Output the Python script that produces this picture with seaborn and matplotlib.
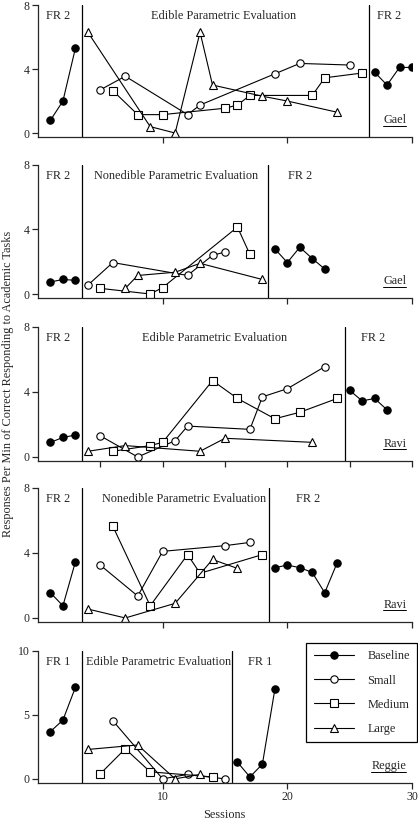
import numpy as np
import pandas as pd
import seaborn as sns
import matplotlib.pyplot as plt
from matplotlib.lines import Line2D

# ---------------- data (sessions, responses per min) ----------------
# panel 1 - Gael, edible
p1_base_a_x = [1, 2, 3]
p1_base_a_y = [0.8, 2.0, 5.3]
p1_base_b_x = [27, 28, 29, 30]
p1_base_b_y = [3.8, 3.0, 4.1, 4.1]
p1_small_x = [5, 7, 12, 13, 19, 21, 25]
p1_small_y = [2.7, 3.55, 1.15, 1.75, 3.7, 4.35, 4.25]
p1_med_x = [6, 8, 10, 15, 16, 17, 22, 23, 26]
p1_med_y = [2.65, 1.15, 1.15, 1.55, 1.75, 2.35, 2.35, 3.45, 3.75]
p1_large_x = [4, 9, 11, 13, 14, 18, 20, 24]
p1_large_y = [6.3, 0.4, 0.0, 6.3, 3.0, 2.3, 2.0, 1.3]

# panel 2 - Gael, nonedible
p2_base_a_x = [1, 2, 3]
p2_base_a_y = [0.75, 0.9, 0.85]
p2_base_b_x = [19, 20, 21, 22, 23]
p2_base_b_y = [2.8, 1.95, 2.9, 2.2, 1.55]
p2_small_x = [4, 6, 12, 14, 15]
p2_small_y = [0.55, 1.95, 1.15, 2.4, 2.6]
p2_med_x = [5, 9, 10, 16, 17]
p2_med_y = [0.35, 0.0, 0.4, 4.15, 2.45]
p2_large_x = [7, 8, 11, 13, 18]
p2_large_y = [0.35, 1.15, 1.35, 1.9, 0.9]

# panel 3 - Ravi, edible
p3_base_a_x = [1, 2, 3]
p3_base_a_y = [0.9, 1.2, 1.35]
p3_base_b_x = [25, 26, 27, 28]
p3_base_b_y = [4.1, 3.45, 3.6, 2.9]
p3_small_x = [5, 8, 11, 12, 17, 18, 20, 23]
p3_small_y = [1.3, 0.0, 1.0, 1.9, 1.7, 3.7, 4.2, 5.55]
p3_med_x = [6, 9, 10, 14, 16, 19, 21, 24]
p3_med_y = [0.35, 0.7, 0.9, 4.7, 3.6, 2.35, 2.75, 3.6]
p3_large_x = [4, 7, 13, 15, 22]
p3_large_y = [0.35, 0.7, 0.35, 1.15, 0.9]

# panel 4 - Ravi, nonedible
p4_base_a_x = [1, 2, 3]
p4_base_a_y = [1.55, 0.75, 3.45]
p4_base_b_x = [19, 20, 21, 22, 23, 24]
p4_base_b_y = [3.1, 3.25, 3.1, 2.8, 1.55, 3.4]
p4_small_x = [5, 8, 10, 15, 17]
p4_small_y = [3.25, 1.35, 4.1, 4.45, 4.65]
p4_med_x = [6, 9, 12, 13, 18]
p4_med_y = [5.65, 0.75, 3.9, 2.75, 3.9]
p4_large_x = [4, 7, 11, 14, 16]
p4_large_y = [0.55, 0.0, 0.9, 3.6, 3.05]

# panel 5 - Reggie, edible
p5_base_a_x = [1, 2, 3]
p5_base_a_y = [3.7, 4.6, 7.15]
p5_base_b_x = [16, 17, 18, 19]
p5_base_b_y = [1.3, 0.15, 1.15, 7.0]
p5_small_x = [6, 10, 12, 15]
p5_small_y = [4.55, 0.0, 0.35, 0.0]
p5_med_x = [5, 7, 9, 14]
p5_med_y = [0.4, 2.35, 0.55, 0.15]
p5_large_x = [4, 8, 11, 13]
p5_large_y = [2.3, 2.65, 0.0, 0.35]

phase_lines = [[3.5, 26.55], [3.5, 18.45], [3.5, 24.6], [3.5, 18.5], [3.5, 15.6]]
phase_names = [['FR 2', 'Edible Parametric Evaluation', 'FR 2'],
               ['FR 2', 'Nonedible Parametric Evaluation', 'FR 2'],
               ['FR 2', 'Edible Parametric Evaluation', 'FR 2'],
               ['FR 2', 'Nonedible Parametric Evaluation', 'FR 2'],
               ['FR 1', 'Edible Parametric Evaluation', 'FR 1']]
phase_text_x = [[1.6, 14.9, 28.2], [1.6, 11.1, 21.0], [1.6, 14.2, 26.9],
                [1.6, 11.7, 21.7], [1.6, 9.7, 17.8]]
subjects = ['Gael', 'Gael', 'Ravi', 'Ravi', 'Reggie']

panels = [
    (p1_base_a_x, p1_base_a_y, p1_base_b_x, p1_base_b_y, p1_small_x, p1_small_y,
     p1_med_x, p1_med_y, p1_large_x, p1_large_y),
    (p2_base_a_x, p2_base_a_y, p2_base_b_x, p2_base_b_y, p2_small_x, p2_small_y,
     p2_med_x, p2_med_y, p2_large_x, p2_large_y),
    (p3_base_a_x, p3_base_a_y, p3_base_b_x, p3_base_b_y, p3_small_x, p3_small_y,
     p3_med_x, p3_med_y, p3_large_x, p3_large_y),
    (p4_base_a_x, p4_base_a_y, p4_base_b_x, p4_base_b_y, p4_small_x, p4_small_y,
     p4_med_x, p4_med_y, p4_large_x, p4_large_y),
    (p5_base_a_x, p5_base_a_y, p5_base_b_x, p5_base_b_y, p5_small_x, p5_small_y,
     p5_med_x, p5_med_y, p5_large_x, p5_large_y),
]

# ---------------- style ----------------
sns.set_style('ticks')
plt.rcParams['font.family'] = ['Liberation Serif', 'DejaVu Serif']
plt.rcParams['axes.linewidth'] = 0.9
plt.rcParams['xtick.major.width'] = 0.9
plt.rcParams['ytick.major.width'] = 0.9

fig = plt.figure(figsize=(4.18, 8.24), dpi=100)

# axes boxes in figure fraction (left, bottom, width, height)
boxes = [(0.0909, 0.8337, 0.8947, 0.1602),
         (0.0909, 0.6383, 0.8947, 0.1615),
         (0.0909, 0.4405, 0.8947, 0.1627),
         (0.0909, 0.2451, 0.8947, 0.1627),
         (0.0909, 0.0498, 0.8947, 0.1602)]

mk = dict(color='black', linewidth=0.8, markersize=5.3, markeredgecolor='black',
          markeredgewidth=0.8)

for i, box in enumerate(boxes):
    ax = fig.add_axes(box)
    bax, bay, bbx, bby, sx, sy, mx, my, lx, ly = panels[i]

    sns.lineplot(x=bax, y=bay, marker='o', markerfacecolor='black', ax=ax, **mk)
    sns.lineplot(x=bbx, y=bby, marker='o', markerfacecolor='black', ax=ax, **mk)
    sns.lineplot(x=sx, y=sy, marker='o', markerfacecolor='white', ax=ax, **mk)
    sns.lineplot(x=mx, y=my, marker='s', markerfacecolor='white', ax=ax, **mk)
    sns.lineplot(x=lx, y=ly, marker='^', markerfacecolor='white', ax=ax, **mk)

    for xv in phase_lines[i]:
        ax.axvline(xv, color='black', linewidth=0.9)

    for name, tx in zip(phase_names[i], phase_text_x[i]):
        ax.text(tx, 0.92, name, transform=ax.get_xaxis_transform(),
                ha='center', va='center', fontsize=8.8)

    ax.set_xlim(0, 30)
    if i == 4:
        ax.set_ylim(-0.32, 10)
        ax.set_yticks([0, 5, 10])
        ax.set_xticks([10, 20, 30])
    else:
        ax.set_ylim(-0.25, 8)
        ax.set_yticks([0, 4, 8])
        if i == 2:
            ax.set_xticks([5, 10, 15, 20, 25, 30])
        else:
            ax.set_xticks([10, 20, 30])
        ax.set_xticklabels([])
    ax.tick_params(axis='both', direction='out', length=4, labelsize=8.5, pad=2)
    sns.despine(ax=ax)
    ax.set_xlabel('')
    ax.set_ylabel('')

    ax.text(0.985, 0.08, subjects[i], transform=ax.transAxes, ha='right',
            va='bottom', fontsize=8.8)

    if i == 4:
        handles = [
            Line2D([], [], marker='o', markerfacecolor='black', **mk),
            Line2D([], [], marker='o', markerfacecolor='white', **mk),
            Line2D([], [], marker='s', markerfacecolor='white', **mk),
            Line2D([], [], marker='^', markerfacecolor='white', **mk),
        ]
        leg = ax.legend(handles, ['Baseline', 'Small', 'Medium', 'Large'],
                        loc='upper right', bbox_to_anchor=(0.998, 0.2197),
                        bbox_transform=fig.transFigure, borderaxespad=0,
                        fontsize=8.8, handlelength=3.3, handletextpad=1.1,
                        labelspacing=1.0, borderpad=0.6, fancybox=False,
                        framealpha=1)
        leg.get_frame().set_edgecolor('black')
        leg.get_frame().set_linewidth(0.9)

fig.text(0.019, 0.534, 'Responses Per Min of Correct Responding to Academic Tasks',
         rotation=90, ha='center', va='center', fontsize=8.8)
fig.text(0.537, 0.011, 'Sessions', ha='center', va='center', fontsize=8.8)

# underline the subject names
fig.canvas.draw()
inv = fig.transFigure.inverted()
for ax in fig.axes:
    for t in ax.texts:
        if t.get_text() in subjects:
            bb = t.get_window_extent()
            (x0, y0), (x1, y1) = inv.transform([[bb.x0, bb.y0], [bb.x1, bb.y1]])
            fig.add_artist(Line2D([x0, x1], [y0 + 0.001, y0 + 0.001],
                                  color='black', linewidth=0.7,
                                  transform=fig.transFigure))

fig.savefig('out.png', dpi=100)
